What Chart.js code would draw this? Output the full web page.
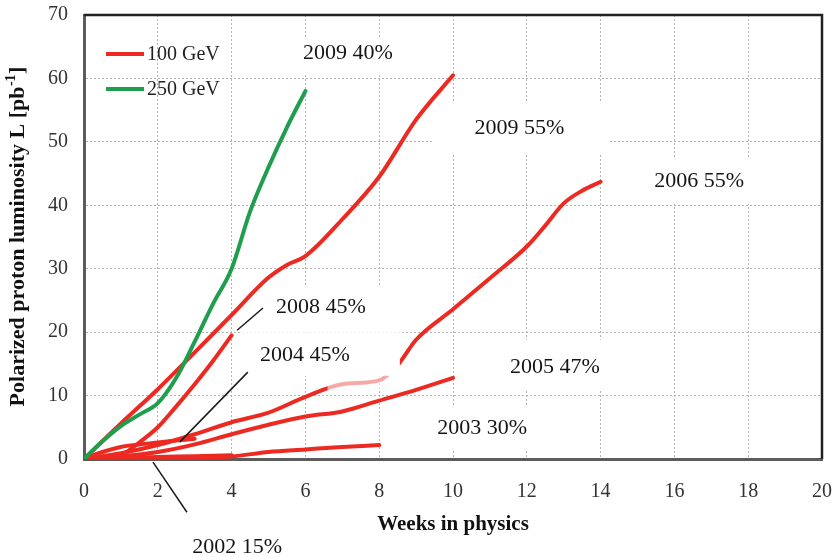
<!DOCTYPE html>
<html>
<head>
<meta charset="utf-8">
<script src="https://cdn.jsdelivr.net/npm/chart.js@4.4.1/dist/chart.umd.min.js"></script>
<style>
  html, body { margin: 0; padding: 0; background: #fff; }
  canvas { display: block; }
</style>
</head>
<body>
<canvas id="lumi" width="833" height="557"></canvas>
<script>
// Integrated polarized proton luminosity (pb^-1) versus weeks of physics running

// 2009, 250 GeV beams
const weeks2009hi = [0, 0.5, 1, 1.5, 2, 2.5, 3, 3.5, 4, 4.5, 5, 5.5, 6];
const lumi2009hi  = [0, 2.8, 5.2, 7.0, 8.8, 12.8, 18.5, 24.5, 30, 39, 46, 52.3, 58];

// 2009, 100 GeV beams
const weeks2009 = [0, 1, 2, 3, 4, 5, 5.5, 6, 7, 8, 9, 10];
const lumi2009  = [0, 5.6, 11, 16.8, 22.7, 28.6, 30.6, 32, 37.8, 44.5, 53.5, 60.5];

// 2008
const weeks2008 = [0.9, 1.5, 2, 2.5, 3, 3.5, 4];
const lumi2008  = [0, 2.6, 5, 8.3, 11.8, 15.5, 19.5];

// 2006
const weeks2006 = [0, 1, 2, 3, 4, 5, 6, 7, 8, 8.5, 9, 10, 11, 12, 12.5, 13, 13.5, 14];
const lumi2006  = [0, 0.9, 2.2, 3.9, 5.8, 7.3, 9.8, 11.8, 12.4, 14.8, 18.8, 23.6, 28.5, 33.5, 36.8, 40.3, 42.3, 43.7];

// 2005
const weeks2005 = [0, 1, 2, 3, 4, 5, 6, 7, 8, 9, 10];
const lumi2005  = [0, 0.4, 1.1, 2.3, 3.9, 5.4, 6.7, 7.5, 9.2, 10.9, 12.8];

// 2004
const weeks2004 = [0, 0.5, 1, 1.5, 2, 2.5, 3];
const lumi2004  = [0, 1.1, 1.9, 2.3, 2.6, 2.9, 3.2];

// 2003
const weeks2003 = [0, 1, 2, 3, 4, 5, 6, 7, 8];
const lumi2003  = [0, 0, 0.05, 0.15, 0.4, 1.1, 1.5, 1.9, 2.2];

// 2002
const weeks2002 = [0, 1, 2, 3, 4];
const lumi2002  = [0, 0.15, 0.3, 0.45, 0.6];

// axis ranges and legend text
const xTicksMax = 20, xTickStep = 2;
const yTicksMax = 70, yTickStep = 10;
const legendLabels = ['100 GeV', '250 GeV'];

const FONT = "'Liberation Serif', 'Times New Roman', serif";
const RED = '#ec2a22';
const GREEN = '#1f9e4e';

const pts = (xs, ys) => xs.map((x, i) => ({ x: x, y: ys[i] }));

const lineStyle = {
  borderWidth: 4,
  pointRadius: 0,
  pointHoverRadius: 0,
  fill: false,
  cubicInterpolationMode: 'monotone',
  borderCapStyle: 'round',
  borderJoinStyle: 'round'
};

// dataset 0 is painted last (on top)
const datasets = [
  { label: '250 GeV', data: pts(weeks2009hi, lumi2009hi), borderColor: GREEN },
  { label: '100 GeV', data: pts(weeks2009, lumi2009), borderColor: RED },
  { label: '100 GeV', data: pts(weeks2008, lumi2008), borderColor: RED },
  { label: '100 GeV', data: pts(weeks2004, lumi2004), borderColor: RED },
  { label: '100 GeV', data: pts(weeks2005, lumi2005), borderColor: RED },
  { label: '100 GeV', data: pts(weeks2003, lumi2003), borderColor: RED },
  { label: '100 GeV', data: pts(weeks2002, lumi2002), borderColor: RED },
  { label: '100 GeV', data: pts(weeks2006, lumi2006), borderColor: RED }
].map(d => Object.assign({}, lineStyle, d));

// run annotations: text centred at (x, y) in axis units
const runNotes = [
  { text: '2009 40%', x: 7.15, y: 63.9 },
  { text: '2009 55%', x: 11.8, y: 52.2 },
  { text: '2006 55%', x: 16.67, y: 43.8 },
  { text: '2008 45%', x: 6.42, y: 24.0 },
  { text: '2004 45%', x: 5.99, y: 16.4 },
  { text: '2005 47%', x: 12.76, y: 14.5 },
  { text: '2003 30%', x: 10.79, y: 4.9 },
  { text: '2002 15%', x: 4.15, y: -13.9 }
];

// leader lines from a note to its curve
const leaders = [
  [[4.85, 23.8], [4.15, 20.3]],
  [[4.44, 13.7], [2.6, 2.7]],
  [[1.87, -0.5], [2.79, -8.4]]
];

// white backgrounds behind the notes [x0, x1, y0, y1]
const noteBoxes = [
  { r: [5.53, 8.7, 60.5, 66.4] },
  { r: [9.43, 14.25, 48.1, 56.1] },
  { r: [14.06, 19.8, 40.2, 47.6] },
  { r: [4.23, 8.56, 19.9, 27.4] },
  { r: [10.5, 15.1, 10.9, 18.8] },
  { r: [8.8, 12.9, 1.4, 8.5] },
  { r: [4.1, 8.56, 13.1, 19.7], front: true },
  { r: [6.6, 8.56, 10.9, 13.1], front: true, alpha: 0.6 }
];

function fillBox(ctx, sx, sy, b) {
  const [x0, x1, y0, y1] = b.r;
  const px0 = sx.getPixelForValue(x0), px1 = sx.getPixelForValue(x1);
  const py0 = sy.getPixelForValue(y1), py1 = sy.getPixelForValue(y0);
  ctx.save();
  ctx.globalAlpha = b.alpha || 1;
  ctx.fillStyle = '#ffffff';
  ctx.fillRect(px0, py0, px1 - px0, py1 - py0);
  ctx.restore();
}

const decorations = {
  id: 'decorations',
  beforeDatasetsDraw(chart) {
    const { ctx, scales: { x, y } } = chart;
    noteBoxes.filter(b => !b.front).forEach(b => fillBox(ctx, x, y, b));
  },
  afterDatasetsDraw(chart) {
    const { ctx, chartArea: a, scales: { x, y } } = chart;
    noteBoxes.filter(b => b.front).forEach(b => fillBox(ctx, x, y, b));

    // top and right frame
    ctx.save();
    ctx.strokeStyle = '#222';
    ctx.lineWidth = 2.5;
    ctx.beginPath();
    ctx.moveTo(a.left, a.top);
    ctx.lineTo(a.right, a.top);
    ctx.lineTo(a.right, a.bottom);
    ctx.stroke();
    ctx.restore();

    // leader lines
    ctx.save();
    ctx.strokeStyle = '#1a1a1a';
    ctx.lineWidth = 1.5;
    leaders.forEach(([p, q]) => {
      ctx.beginPath();
      ctx.moveTo(x.getPixelForValue(p[0]), y.getPixelForValue(p[1]));
      ctx.lineTo(x.getPixelForValue(q[0]), y.getPixelForValue(q[1]));
      ctx.stroke();
    });
    ctx.restore();

    // run notes
    ctx.save();
    ctx.font = `22px ${FONT}`;
    ctx.fillStyle = '#151515';
    ctx.textAlign = 'center';
    ctx.textBaseline = 'middle';
    runNotes.forEach(n => ctx.fillText(n.text, x.getPixelForValue(n.x), y.getPixelForValue(n.y)));
    ctx.restore();

    // legend inside the plot
    const legendColors = [RED, GREEN];
    ctx.save();
    ctx.font = `20px ${FONT}`;
    ctx.textBaseline = 'middle';
    ctx.textAlign = 'left';
    legendLabels.forEach((lab, i) => {
      const ly = a.top + 39 + i * 35;
      ctx.strokeStyle = legendColors[i];
      ctx.lineWidth = 4;
      ctx.beginPath();
      ctx.moveTo(a.left + 22, ly);
      ctx.lineTo(a.left + 60, ly);
      ctx.stroke();
      ctx.fillStyle = '#222';
      ctx.fillText(lab, a.left + 63, ly + 1);
    });
    ctx.restore();

    // axis titles
    ctx.save();
    ctx.fillStyle = '#111';
    ctx.font = `bold 21px ${FONT}`;
    ctx.textAlign = 'center';
    ctx.textBaseline = 'middle';
    ctx.fillText('Weeks in physics', (a.left + a.right) / 2, 525);

    ctx.translate(18, (a.top + a.bottom) / 2);
    ctx.rotate(-Math.PI / 2);
    ctx.textAlign = 'left';
    const main = 'Polarized proton luminosity L [pb';
    const sup = '-1';
    const tail = ']';
    ctx.font = `bold 22px ${FONT}`;
    const wMain = ctx.measureText(main).width;
    const wTail = ctx.measureText(tail).width;
    ctx.font = `bold 14px ${FONT}`;
    const wSup = ctx.measureText(sup).width;
    const start = -(wMain + wSup + wTail) / 2;
    ctx.font = `bold 22px ${FONT}`;
    ctx.fillText(main, start, 0);
    ctx.fillText(tail, start + wMain + wSup + 1, 0);
    ctx.font = `bold 14px ${FONT}`;
    ctx.fillText(sup, start + wMain + 0.5, -7);
    ctx.restore();
  }
};

const tickFont = { family: FONT, size: 20 };

new Chart(document.getElementById('lumi'), {
  type: 'line',
  data: { datasets: datasets },
  options: {
    responsive: false,
    animation: false,
    events: [],
    layout: { padding: { top: 15, right: 11, left: 0, bottom: 0 } },
    plugins: {
      legend: { display: false },
      tooltip: { enabled: false },
      title: { display: false }
    },
    scales: {
      x: {
        type: 'linear',
        min: 0,
        max: xTicksMax,
        afterFit(scale) {
          scale.height = 98;
          scale.paddingLeft = 0;
          scale.paddingRight = 0;
        },
        ticks: { stepSize: xTickStep, font: tickFont, color: '#333', padding: 21, maxRotation: 0 },
        grid: { color: '#b3b3b3', lineWidth: 1, drawTicks: false },
        border: { display: true, color: '#5c5c5c', width: 3, dash: [2, 2] }
      },
      y: {
        type: 'linear',
        min: 0,
        max: yTicksMax,
        afterFit(scale) {
          scale.width = 84;
          scale.paddingTop = 0;
          scale.paddingBottom = 0;
        },
        ticks: { stepSize: yTickStep, font: tickFont, color: '#333', padding: 16 },
        grid: { color: '#b3b3b3', lineWidth: 1, drawTicks: false },
        border: { display: true, color: '#5c5c5c', width: 3, dash: [2, 2] }
      }
    }
  },
  plugins: [decorations]
});
</script>
</body>
</html>
